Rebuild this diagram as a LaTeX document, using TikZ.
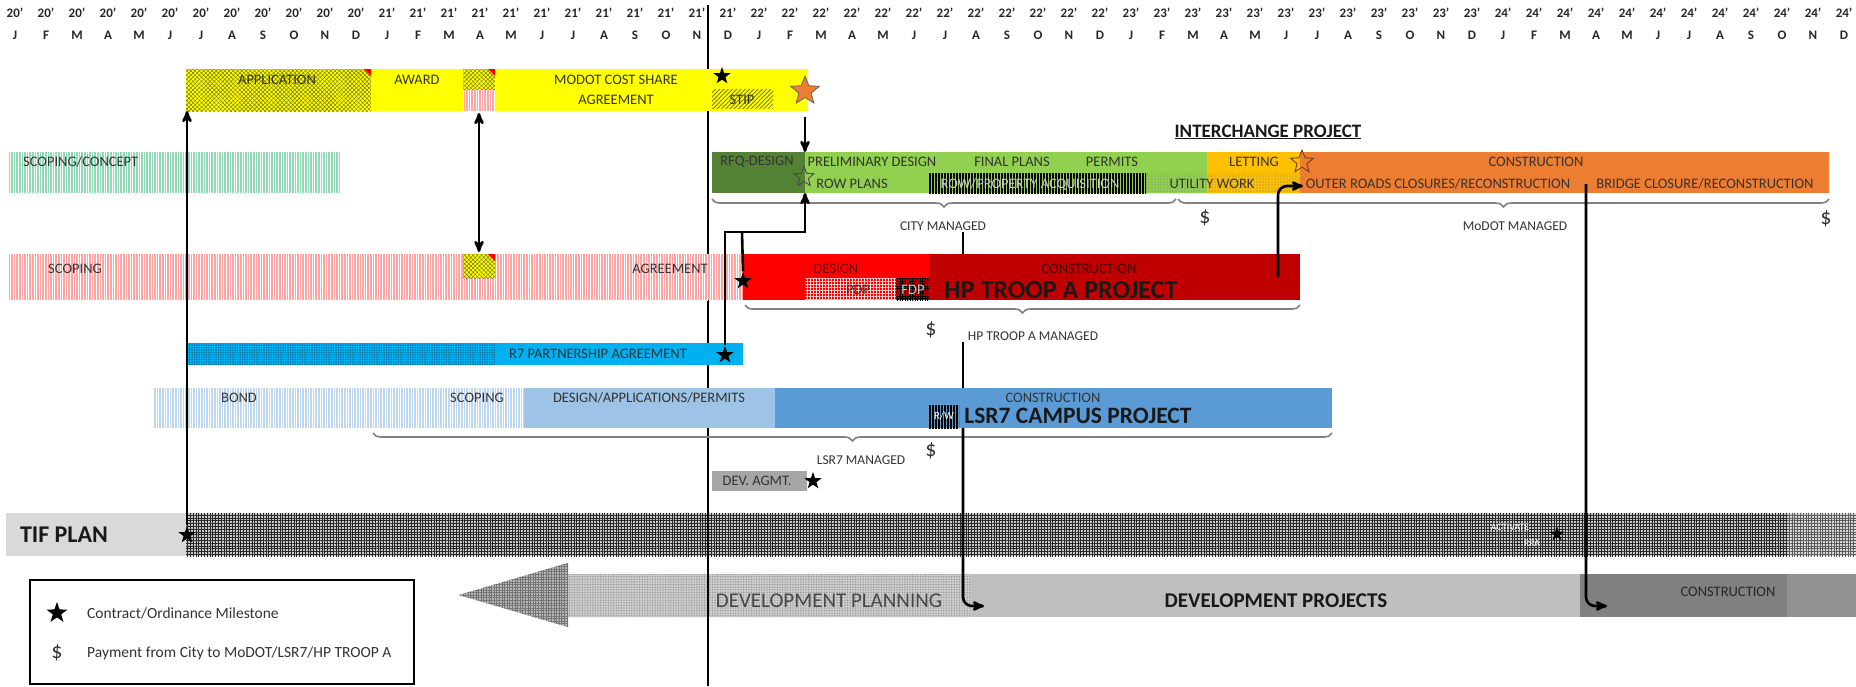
\documentclass[tikz,border=0pt]{standalone}
\usepackage{fontspec}
\setmainfont{Carlito}
\usetikzlibrary{arrows}
\usetikzlibrary{positioning}
\usetikzlibrary{shapes.geometric}
\usetikzlibrary{patterns.meta}
\usetikzlibrary{decorations.pathreplacing}

\definecolor{yel}{HTML}{FFFF00}
\definecolor{olivehatch}{HTML}{7A7A00}
\definecolor{pinkbar}{HTML}{FFA3A3}
\definecolor{mintbar}{HTML}{8FD9B4}
\definecolor{dkgreen}{HTML}{548235}
\definecolor{ltgreen}{HTML}{92D050}
\definecolor{letting}{HTML}{FFC000}
\definecolor{orng}{HTML}{ED7D31}
\definecolor{redA}{HTML}{FF0000}
\definecolor{redB}{HTML}{C00000}
\definecolor{rsblue}{HTML}{00B0F0}
\definecolor{rsdots}{HTML}{0B6A8F}
\definecolor{palebl}{HTML}{BDD7EE}
\definecolor{midbl}{HTML}{9DC3E6}
\definecolor{lsrbl}{HTML}{5B9BD5}
\definecolor{agmtgray}{HTML}{A6A6A6}
\definecolor{tifgray}{HTML}{D9D9D9}
\definecolor{projgray}{HTML}{BFBFBF}
\definecolor{congray}{HTML}{808080}

\tikzset{
	>=stealth',
	bar/.style={rectangle, draw=none, inner sep=0pt, outer sep=0pt, anchor=north west},
	blk/.style 2 args={bar, minimum width=#1pt, minimum height=#2pt},
	hdr/.style={inner sep=0pt, font=\fontsize{13}{13}\selectfont\bfseries, text=black!85},
	lbl/.style={inner sep=1pt, font=\fontsize{14.5}{15}\selectfont, text=black!80},
	headline/.style={inner sep=1pt, font=\fontsize{26}{26}\selectfont\bfseries, text=black!90},
	mstone/.style={star, star points=5, star point ratio=2.5, fill=black, inner sep=0pt, minimum size=18pt},
	hollow/.style={star, star points=5, star point ratio=2.3, draw=black!70, line width=0.9pt, inner sep=0pt, minimum size=21pt},
	pay/.style={inner sep=0pt, font=\fontsize{22}{22}\selectfont, text=black!80},
	link/.style={draw=black, line width=2.6pt},
	nowline/.style={draw=black, line width=1.2pt},
	stripes/.style={pattern={Lines[angle=90,distance=2.6pt,line width=0.6pt]}, pattern color=white},
	decoration={brace, mirror, amplitude=8pt},
	curly/.style={decorate, draw=black!50, line width=1.6pt},
}

\begin{document}
\begin{tikzpicture}[x=1pt, y=-1pt]
	\path[use as bounding box, fill=white] (0,0) rectangle (1856,686);

	\foreach \yr [count=\k from 0] in {20,...,24}{
		\foreach \mo [count=\j from 0] in {J,F,M,A,M,J,J,A,S,O,N,D}{
			\node[hdr] (yr\k-\j) at ({15+31*(12*\k+\j)},13) {\yr'};
			\node[hdr] (mo\k-\j) at ({15+31*(12*\k+\j)},35) {\mo};
		}
	}

	% TIF plan and development rows
	\node[blk={180}{43}, fill=tifgray] (tif) at (6,513) {};
	\node[blk={1601}{43}, preaction={fill=black!22}, pattern={Hatch[angle=0,distance=2.8pt,line width=0.8pt]}, pattern color=black!85] (tifhatch) at (186,513) {};
	\node[blk={69}{43}, preaction={fill=black!15}, pattern={Hatch[angle=0,distance=2.8pt,line width=0.7pt]}, pattern color=black!65] (tifend) at (1787,513) {};
	\fill[preaction={fill=black!20}, pattern={Dots[distance=2.6pt,radius=0.7pt]}, pattern color=black!45] (459,595) -- (568,563) -- (568,574) -- (971,574) -- (971,617) -- (568,617) -- (568,627) -- cycle;
	\fill[preaction={fill=black!28}, pattern={Hatch[angle=0,distance=2.6pt,line width=0.6pt]}, pattern color=black!55] (459,595) -- (568,563) -- (568,627) -- cycle;
	\node[blk={609}{43}, fill=projgray] (devproj) at (971,574) {};
	\node[blk={207}{43}, fill=congray] (devcon) at (1580,574) {};
	\node[blk={69}{43}, fill=black!43] (devend) at (1787,574) {};
	\node[lbl, font=\fontsize{21}{21}\selectfont, text=black!72] (planlbl) at (829,601) {DEVELOPMENT PLANNING};
	\node[headline, font=\fontsize{21}{21}\selectfont\bfseries] (projlbl) at (1276,601) {DEVELOPMENT PROJECTS};
	\node[lbl, text=black!85] (conlbl) at (1728,592) {CONSTRUCTION};
	\node[headline, font=\fontsize{24}{24}\selectfont\bfseries] (tiflbl) at (64,535) {TIF PLAN};
	\node[mstone] (tifstar) at (187,535) {};
	\node[inner sep=0pt, font=\fontsize{10}{10}\selectfont, text=white] (actlbl) at (1510,527) {ACTIVATE};
	\node[inner sep=0pt, font=\fontsize{10}{10}\selectfont, text=white] (rpalbl) at (1532,543) {RPA};
	\node[mstone, minimum size=15pt] (actstar) at (1557,534) {};

	\coordinate (nowtop) at (708,5);
	\coordinate (nowbot) at (708,686);
	\draw[nowline] (nowtop) -- (nowbot);

	% cost share row
	\node[blk={185}{42}, preaction={fill=yel}, pattern={Hatch[angle=45,distance=3pt,line width=0.5pt]}, pattern color=olivehatch] (app) at (186,69) {};
	\node[blk={92}{42}, fill=yel] (award) at (371,69) {};
	\node[blk={32}{21}, preaction={fill=yel}, pattern={Hatch[angle=45,distance=3pt,line width=0.5pt]}, pattern color=olivehatch] (chkA) at (463,69) {};
	\node[blk={32}{21}, preaction={fill=pinkbar}, stripes] (chkB) at (463,90) {};
	\node[blk={313}{42}, fill=yel] (modot) at (495,69) {};
	\node[blk={61}{19}, preaction={fill=yel}, pattern={Lines[angle=45,distance=3pt,line width=0.8pt]}, pattern color=olivehatch] (stip) at (712,89) {};
	\fill[redA] (app.north east) -- ++(-7,0) -- ++(7,7) -- cycle;
	\fill[redA] (chkA.north east) -- ++(-7,0) -- ++(7,7) -- cycle;
	\node[lbl] (applbl) at (277,80) {APPLICATION};
	\node[lbl] (awardlbl) at (417,80) {AWARD};
	\node[lbl] (modotlbl) at (616,80) {MODOT COST SHARE};
	\node[lbl] (agrlbl) at (616,100) {AGREEMENT};
	\node[lbl] (stiplbl) at (742,100) {STIP};
	\node[mstone] (costar) at (722,76) {};
	\node[star, star points=5, star point ratio=2.3, fill=orng, draw=black!60, line width=0.8pt, inner sep=0pt, minimum size=30pt] (ostar) at (805,91) {};

	% interchange row
	\node[headline, font=\fontsize{19}{19}\selectfont\bfseries] (ichlbl) at (1268,132) {\underline{INTERCHANGE PROJECT}};
	\node[blk={331}{41}, preaction={fill=mintbar}, stripes] (concept) at (9,152) {};
	\node[lbl, anchor=west] (conceptlbl) at (22,162) {SCOPING/CONCEPT};
	\node[blk={93}{41}, fill=dkgreen] (rfq) at (712,152) {};
	\node[blk={402}{41}, fill=ltgreen] (prelim) at (805,152) {};
	\node[blk={93}{41}, fill=letting] (let) at (1207,152) {};
	\node[blk={529}{41}, fill=orng] (constr) at (1300,152) {};
	\node[blk={217}{20}, preaction={fill=ltgreen}, pattern={Lines[angle=90,distance=3pt,line width=1.5pt]}, pattern color=black] (rowacq) at (929,173) {};
	\node[blk={154}{20}, pattern={Dots[distance=3pt,radius=0.7pt]}, pattern color=black!50] (util) at (1146,173) {};
	\node[lbl] (rfqlbl) at (757,162) {RFQ-DESIGN};
	\node[lbl] (prelbl) at (872,162) {PRELIMINARY DESIGN};
	\node[lbl] (finlbl) at (1012,162) {FINAL PLANS};
	\node[lbl] (permlbl) at (1112,162) {PERMITS};
	\node[lbl] (letlbl) at (1254,162) {LETTING};
	\node[lbl] (conslbl) at (1536,162) {CONSTRUCTION};
	\node[lbl] (rowlbl) at (852,184) {ROW PLANS};
	\node[lbl, text=white!80!black] (acqlbl) at (1030,184) {ROW/PROPERTY ACQUISITION};
	\node[lbl] (utillbl) at (1212,184) {UTILITY WORK};
	\node[lbl] (outerlbl) at (1438,184) {OUTER ROADS CLOSURES/RECONSTRUCTION};
	\node[lbl] (bridgelbl) at (1705,184) {BRIDGE CLOSURE/RECONSTRUCTION};
	\node[hollow] (rfqstar) at (804,177) {};
	\node[hollow, draw=orng!50!black, minimum size=24pt] (letstar) at (1302,162) {};
	\draw[curly] (712,199) -- (1176,199);
	\draw[curly] (1178,199) -- (1829,199);
	\node[lbl, font=\fontsize{13.5}{14}\selectfont] (citylbl) at (943,226) {CITY MANAGED};
	\node[lbl, font=\fontsize{13.5}{14}\selectfont] (modotmgd) at (1515,226) {MoDOT MANAGED};
	\node[pay] (pay1) at (1205,218) {\$};
	\node[pay] (pay2) at (1826,219) {\$};

	% troop A row
	\node[blk={734}{46}, preaction={fill=pinkbar}, stripes] (scope) at (9,254) {};
	\node[blk={32}{24}, preaction={fill=yel}, pattern={Hatch[angle=45,distance=3pt,line width=0.5pt]}, pattern color=olivehatch] (chkC) at (463,254) {};
	\fill[redA] (chkC.north east) -- ++(-7,0) -- ++(7,7) -- cycle;
	\node[blk={186}{46}, fill=redA] (design) at (743,254) {};
	\node[blk={371}{46}, fill=redB] (hpbar) at (929,254) {};
	\node[blk={91}{22}, preaction={fill=redA}, pattern={Hatch[angle=0,distance=3pt,line width=0.9pt]}, pattern color=white!85!red] (pdp) at (805,278) {};
	\node[blk={33}{22}, preaction={fill=redB}, pattern={Hatch[angle=0,distance=2.5pt,line width=0.9pt]}, pattern color=black] (fdp) at (896,278) {};
	\node[lbl] (scopelbl) at (75,269) {SCOPING};
	\node[lbl] (hpagrlbl) at (670,269) {AGREEMENT};
	\node[lbl, text=redB!60!black] (designlbl) at (836,269) {DESIGN};
	\node[lbl] (pdplbl) at (858,290) {PDP};
	\node[lbl, text=white!80!black] (fdplbl) at (913,290) {FDP};
	\node[lbl, text=redB!40!black] (hpconlbl) at (1089,269) {CONSTRUCTION};
	\node[headline] (hplbl2) at (1061,290) {HP TROOP A PROJECT};
	\node[mstone] (hpstar) at (743,281) {};
	\draw[curly] (745,305) -- (1300,305);
	\node[lbl, font=\fontsize{13.5}{14}\selectfont] (hplbl) at (1033,336) {HP TROOP A MANAGED};
	\node[pay] (pay3) at (931,330) {\$};

	% R7 row
	\node[blk={309}{22}, preaction={fill=rsblue}, pattern={Dots[distance=2.4pt,radius=0.8pt]}, pattern color=rsdots] (r7hatch) at (186,343) {};
	\node[blk={248}{22}, fill=rsblue] (r7) at (495,343) {};
	\node[lbl] (r7lbl) at (598,354) {R7 PARTNERSHIP AGREEMENT};
	\node[mstone] (r7star) at (725,355) {};

	% LSR7 row
	\node[blk={370}{40}, preaction={fill=palebl}, stripes] (bond) at (154,388) {};
	\node[blk={251}{40}, fill=midbl] (dap) at (524,388) {};
	\node[blk={557}{40}, fill=lsrbl] (lsrcon) at (775,388) {};
	\node[blk={30}{23}, preaction={fill=lsrbl}, pattern={Lines[angle=90,distance=3pt,line width=1.5pt]}, pattern color=black] (rw) at (929,405) {};
	\node[lbl] (bondlbl) at (239,398) {BOND};
	\node[lbl] (lsrscope) at (477,398) {SCOPING};
	\node[lbl] (daplbl) at (649,398) {DESIGN/APPLICATIONS/PERMITS};
	\node[lbl] (lsrconlbl) at (1053,398) {CONSTRUCTION};
	\node[headline, font=\fontsize{23.5}{24}\selectfont\bfseries] (lsrlbl) at (1078,416) {LSR7 CAMPUS PROJECT};
	\node[lbl, font=\fontsize{11}{11}\selectfont, text=white] (rwlbl) at (944,416) {R/W};
	\draw[curly] (373,433) -- (1332,433);
	\node[lbl, font=\fontsize{13.5}{14}\selectfont] (lsrmgd) at (861,460) {LSR7 MANAGED};
	\node[pay] (pay4) at (931,451) {\$};

	\node[blk={95}{20}, fill=agmtgray] (agmt) at (712,471) {};
	\node[lbl] (agmtlbl) at (757,481) {DEV. AGMT.};
	\node[mstone] (agmtstar) at (813,481) {};

	% links
	\draw[link,->] (tifstar.north) -- (tifstar |- app.south);
	\draw[link,<->] ([yshift=-2pt]chkB.south) -- ([yshift=2pt]chkC.north);
	\draw[link,->] ([yshift=-6pt]ostar |- modot.south) -- (ostar |- rfq.north);
	\coordinate (jn) at (725,232);
	\coordinate (jb) at (742,232);
	\draw[link,->] (r7star.north) -- (jn) -| (rfq.south east);
	\draw[link] (jb) -- (hpstar.north);
	\coordinate (hk) at (1278,277);
	\coordinate (hkend) at (1303,186);
	\draw[link,->,rounded corners=9pt] (hk) |- (hkend);
	\coordinate (sp) at (963,0);
	\draw[link] (citylbl.south -| sp) -- (hpbar.north -| sp);
	\draw[link] (hplbl.south -| sp) -- (lsrcon.north -| sp);
	\coordinate (dp1) at (984,606);
	\draw[link,->,rounded corners=9pt] (lsrcon.south -| sp) |- (dp1);
	\coordinate (sp2) at (1586,184);
	\coordinate (dp2) at (1607,606);
	\draw[link,->,rounded corners=9pt] (sp2) |- (dp2);

	% legend
	\node[bar, draw=black, line width=2pt, minimum width=384pt, minimum height=104pt] (legend) at (30,580) {};
	\node[mstone, minimum size=22pt] (legstar) at (57,613) {};
	\node[lbl, anchor=west, font=\fontsize{15.5}{16}\selectfont] (legtxt1) at (86,613) {Contract/Ordinance Milestone};
	\node[pay] (legpay) at (57,653) {\$};
	\node[lbl, anchor=west, font=\fontsize{15.5}{16}\selectfont] (legtxt2) at (86,653) {Payment from City to MoDOT/LSR7/HP TROOP A};
\end{tikzpicture}
\end{document}
